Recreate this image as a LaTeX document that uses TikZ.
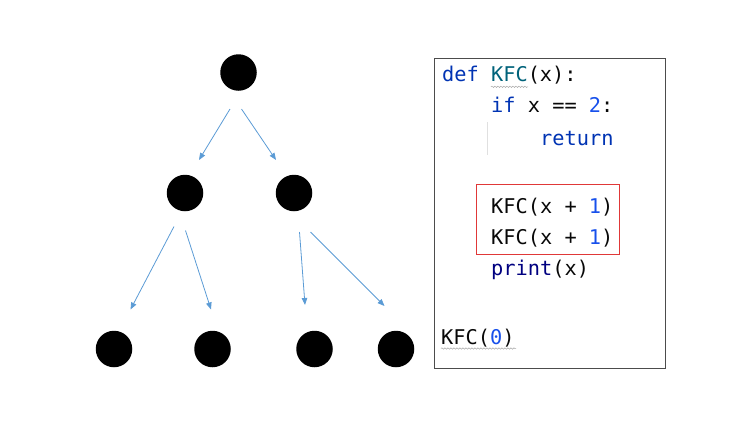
\documentclass[tikz,border=0pt]{standalone}
\usepackage{fontspec}
\setmonofont{DejaVu Sans Mono}
\usetikzlibrary{arrows.meta,decorations.pathmorphing}
\definecolor{kwblue}{HTML}{0033B3}
\definecolor{fnteal}{HTML}{00627A}
\definecolor{numblue}{HTML}{1750EB}
\definecolor{navy}{HTML}{000080}
\definecolor{txt}{HTML}{080808}
\definecolor{arrowblue}{HTML}{5B9BD5}
\definecolor{redbox}{HTML}{E03838}
\begin{document}
\begin{tikzpicture}[x=1pt,y=-1pt,
  dot/.style={circle,fill=black,minimum size=36.5pt,inner sep=0pt},
  edge/.style={draw=arrowblue,line width=0.8pt,-{Triangle[length=7pt,width=5.5pt]}},
  code/.style={anchor=base west,inner sep=0pt,font=\ttfamily\fontsize{20.3}{24}\selectfont,text=txt},
  squiggle/.style={draw=gray!70,line width=0.5pt,decorate,decoration={snake,amplitude=0.7pt,segment length=3pt}}]
\useasboundingbox (0,0) rectangle (733,424);
% tree nodes
\node[dot] (r) at (238.5,72.5) {};
\node[dot] (m1) at (185,193) {};
\node[dot] (m2) at (294,193) {};
\node[dot] (b1) at (114,349) {};
\node[dot] (b2) at (212.5,349) {};
\node[dot] (b3) at (314.5,349) {};
\node[dot] (b4) at (396,349) {};
% arrow endpoints
\coordinate (e1s) at (230,109);   \coordinate (e1t) at (199,160);
\coordinate (e2s) at (241.5,109); \coordinate (e2t) at (276,160);
\coordinate (e3s) at (174,226.5); \coordinate (e3t) at (130.5,309.5);
\coordinate (e4s) at (185.5,230.5); \coordinate (e4t) at (211,309.5);
\coordinate (e5s) at (299.5,232); \coordinate (e5t) at (305,305);
\coordinate (e6s) at (310.5,232); \coordinate (e6t) at (384.5,306);
\draw[edge] (e1s) -- (e1t);
\draw[edge] (e2s) -- (e2t);
\draw[edge] (e3s) -- (e3t);
\draw[edge] (e4s) -- (e4t);
\draw[edge] (e5s) -- (e5t);
\draw[edge] (e6s) -- (e6t);
% code panel
\node[draw=black!70,line width=0.9pt,minimum width=231pt,minimum height=309.5pt,inner sep=0pt,anchor=north west] (panel) at (434,58.3) {};
\node[code] (l1) at (442,81) {\textcolor{kwblue}{def} \textcolor{fnteal}{KFC}(x):};
\node[code] (l2) at (491,112) {\textcolor{kwblue}{if} x == \textcolor{numblue}{2}:};
\node[code] (l3) at (540,145.5) {\textcolor{kwblue}{return}};
\node[code] (l4) at (491,213.3) {KFC(x + \textcolor{numblue}{1})};
\node[code] (l5) at (491,244) {KFC(x + \textcolor{numblue}{1})};
\node[code] (l6) at (491,275.5) {\textcolor{navy}{print}(x)};
\node[code] (l7) at (441,344) {KFC(\textcolor{numblue}{0})};
% red highlight box
\node[draw=redbox,line width=1.1pt,minimum width=143pt,minimum height=70pt,inner sep=0pt,anchor=north west] (hl) at (476,184.3) {};
% indent guide
\coordinate (g1) at (487.5,122); \coordinate (g2) at (487.5,155);
\draw[black!12,line width=0.6pt] (g1) -- (g2);
% squiggly underlines
\coordinate (s1a) at (491,86.8); \coordinate (s1b) at (528,86.8);
\coordinate (s2a) at (441,348.5); \coordinate (s2b) at (516,348.5);
\draw[squiggle] (s1a) -- (s1b);
\draw[squiggle] (s2a) -- (s2b);
\end{tikzpicture}
\end{document}
